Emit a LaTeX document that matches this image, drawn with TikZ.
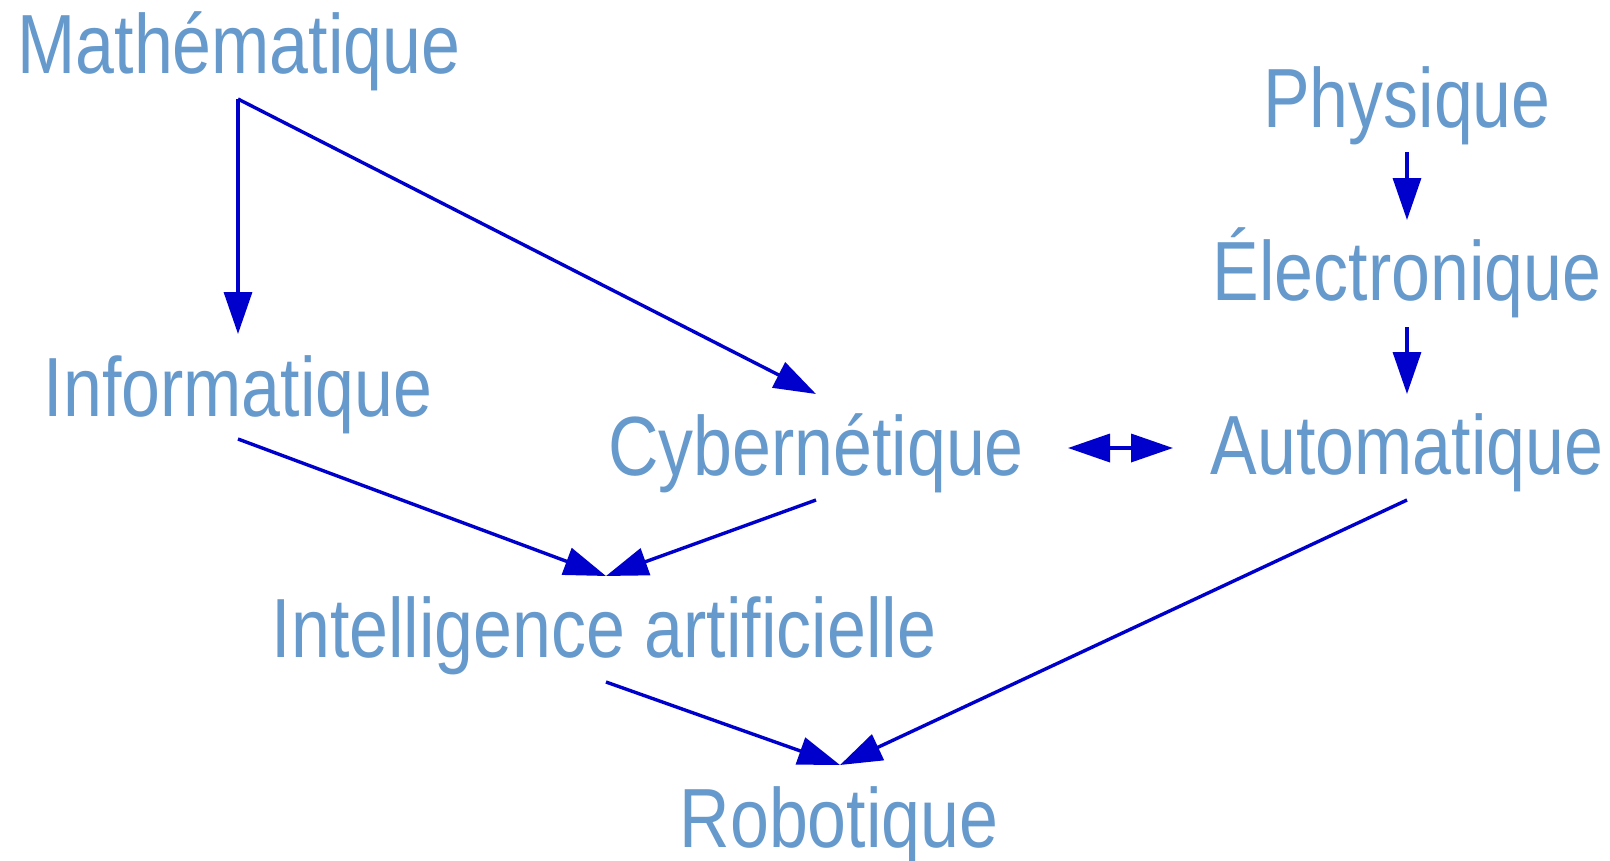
\documentclass[tikz,border=0pt]{standalone}
\usepackage{fontspec}
\setmainfont{Liberation Sans}[FakeStretch=0.832]
\usetikzlibrary{arrows.meta}
\definecolor{txt}{RGB}{102,153,204}
\definecolor{arr}{RGB}{0,0,204}
\begin{document}
\begin{tikzpicture}[x=1pt,y=-1pt,
  lbl/.style={anchor=base, text=txt, inner sep=0pt, font=\fontsize{84}{100}\selectfont},
  link/.style={draw=arr, line width=3.4pt, -{Triangle[length=42pt,width=28pt]}},
  biglink/.style={draw=arr, line width=3.6pt, {Triangle[length=42pt,width=28pt]}-{Triangle[length=42pt,width=28pt]}}]
\useasboundingbox (0,0) rectangle (1610,860);
\node[lbl] (math) at (239,73) {Mathématique};
\node[lbl] (phys) at (1407,127) {Physique};
\node[lbl] (elec) at (1407,300) {Électronique};
\node[lbl] (info) at (238,416) {Informatique};
\node[lbl] (cyber) at (816,475) {Cybernétique};
\node[lbl] (auto) at (1407,474) {Automatique};
\node[lbl] (ia) at (604,657) {Intelligence artificielle};
\node[lbl] (robot) at (839,847) {Robotique};
% connector ends
\coordinate (mathS) at (238,99);
\coordinate (infoN) at (238,334);
\coordinate (infoS) at (238,439);
\coordinate (cyberN) at (816,394);
\coordinate (cyberS) at (816,500);
\coordinate (cyberE) at (1068,448);
\coordinate (autoW) at (1173,448);
\coordinate (iaN) at (606,576);
\coordinate (iaS) at (606,682);
\coordinate (physS) at (1407,152);
\coordinate (elecN) at (1407,220);
\coordinate (elecS) at (1407,327);
\coordinate (autoN) at (1407,394);
\coordinate (autoS) at (1407,500);
\coordinate (robotN) at (840,765);
\draw[link] (mathS) -- (infoN);
\draw[link] (mathS) -- (cyberN);
\draw[link] (infoS) -- (iaN);
\draw[link] (cyberS) -- (iaN);
\draw[link] (physS) -- (elecN);
\draw[link] (elecS) -- (autoN);
\draw[biglink] (cyberE) -- (autoW);
\draw[link] (autoS) -- (robotN);
\draw[link] (iaS) -- (robotN);
\end{tikzpicture}
\end{document}
